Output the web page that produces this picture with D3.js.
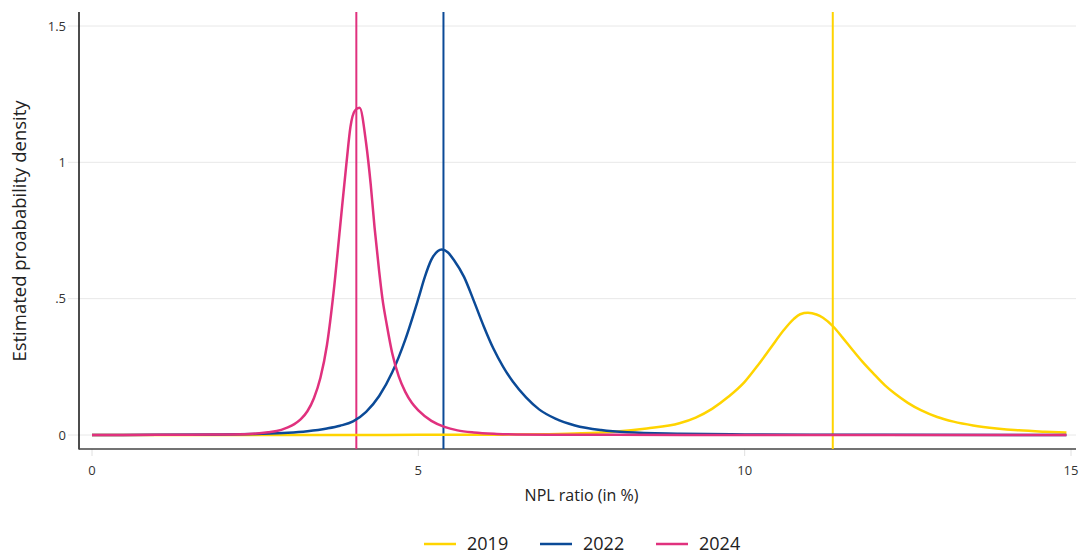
<!DOCTYPE html>
<html>
  <head>
    <meta charset="UTF-8" />
    <title>NPL ratio density</title>
    <script src="https://cdn.jsdelivr.net/npm/d3@7"></script>
    <style>
      body { margin: 0; background: #fff; }
      svg { display: block; font-family: 'Open Sans', sans-serif; }
    </style>
  </head>
  <body>
    <svg></svg>
    <script>
      // data: [NPL ratio, density]
      const years = ['2019', '2022', '2024'];
      const colors = ['#ffd400', '#0b4a97', '#e0317e'];
      const vlines = [11.35, 5.385, 4.05];

      const d2019 = [
        [0, 0], [4, 0.0003], [5, 0.0005], [6, 0.001], [7, 0.003], [7.5, 0.006],
        [8, 0.012], [8.5, 0.024], [9, 0.043], [9.25, 0.064], [9.5, 0.096],
        [9.75, 0.14], [10, 0.195], [10.2, 0.255], [10.4, 0.32], [10.6, 0.385],
        [10.75, 0.425], [10.85, 0.443], [10.97, 0.448], [11.1, 0.442], [11.2, 0.43],
        [11.36, 0.397], [11.5, 0.357], [11.66, 0.31], [11.8, 0.27], [11.97, 0.226],
        [12.15, 0.182], [12.3, 0.152], [12.5, 0.118], [12.7, 0.091], [12.95, 0.066],
        [13.2, 0.049], [13.5, 0.035], [13.86, 0.024], [14.2, 0.017], [14.6, 0.012],
        [14.93, 0.009]
      ];
      const d2022 = [
        [0, 0], [1, 0.0005], [2, 0.002], [2.5, 0.004], [3, 0.008], [3.3, 0.014],
        [3.6, 0.024], [3.8, 0.034], [4, 0.05], [4.2, 0.085], [4.4, 0.143],
        [4.6, 0.23], [4.8, 0.35], [5, 0.5], [5.1, 0.58], [5.2, 0.643], [5.3, 0.675],
        [5.36, 0.68], [5.45, 0.67], [5.55, 0.64], [5.7, 0.58], [5.85, 0.492],
        [6, 0.4], [6.15, 0.317], [6.3, 0.25], [6.45, 0.195], [6.65, 0.138],
        [6.85, 0.094], [7.1, 0.06], [7.4, 0.035], [7.8, 0.018], [8.2, 0.01],
        [9, 0.005], [10, 0.002], [11, 0.001], [12, 0.0005], [14.93, 0.0002]
      ];
      const d2024 = [
        [0, 0], [1, 0.0005], [1.5, 0.001], [2, 0.002], [2.4, 0.004], [2.7, 0.01],
        [2.9, 0.019], [3, 0.028], [3.1, 0.04], [3.2, 0.058], [3.3, 0.087],
        [3.4, 0.135], [3.5, 0.21], [3.6, 0.33], [3.7, 0.52], [3.8, 0.76],
        [3.9, 1.0], [3.96, 1.13], [4.03, 1.19], [4.1, 1.2], [4.2, 1.07],
        [4.27, 0.92], [4.33, 0.76], [4.4, 0.6], [4.45, 0.5], [4.52, 0.4],
        [4.6, 0.3], [4.7, 0.215], [4.8, 0.158], [4.9, 0.118], [5, 0.09],
        [5.2, 0.052], [5.4, 0.03], [5.6, 0.017], [5.85, 0.009], [6.2, 0.004],
        [6.5, 0.002], [7, 0.001], [8, 0.0005], [14.93, 0.0002]
      ];
      const series = [d2019, d2022, d2024];

      const xTicks = [0, 5, 10, 15];
      const yTicks = [0, 0.5, 1, 1.5];
      const yLabels = ['0', '.5', '1', '1.5'];

      const width = 1080;
      const height = 554;

      const svg = d3.select('svg').attr('width', width).attr('height', height);

      const x = d3.scaleLinear().domain([0, 15]).range([92, 1071]);
      const y = d3.scaleLinear().domain([0, 1.5]).range([435, 26]);

      // grid lines
      svg.append('g')
        .selectAll('line')
        .data(yTicks)
        .join('line')
        .attr('x1', 68)
        .attr('x2', 1076)
        .attr('y1', (d) => y(d))
        .attr('y2', (d) => y(d))
        .attr('stroke', '#e8e8e8')
        .attr('stroke-width', 1);

      // y labels
      svg.append('g')
        .selectAll('text')
        .data(yTicks)
        .join('text')
        .attr('x', 66)
        .attr('y', (d) => y(d))
        .attr('dy', '0.35em')
        .attr('text-anchor', 'end')
        .attr('font-size', 13)
        .attr('fill', '#333')
        .text((d, i) => yLabels[i]);

      // x ticks and labels
      const xg = svg.append('g');
      xg.selectAll('line')
        .data(xTicks)
        .join('line')
        .attr('x1', (d) => x(d))
        .attr('x2', (d) => x(d))
        .attr('y1', 449)
        .attr('y2', 456)
        .attr('stroke', '#e0e0e0');
      xg.selectAll('text')
        .data(xTicks)
        .join('text')
        .attr('x', (d) => x(d))
        .attr('y', 475)
        .attr('text-anchor', 'middle')
        .attr('font-size', 13)
        .attr('fill', '#333')
        .text((d) => d);

      // axis lines
      svg.append('line')
        .attr('x1', 79).attr('x2', 79)
        .attr('y1', 12).attr('y2', 449.5)
        .attr('stroke', '#111').attr('stroke-width', 1.5);
      svg.append('line')
        .attr('x1', 79).attr('x2', 1076)
        .attr('y1', 449).attr('y2', 449)
        .attr('stroke', '#444').attr('stroke-width', 1.5);

      // axis titles
      svg.append('text')
        .attr('x', x(7.5))
        .attr('y', 501)
        .attr('text-anchor', 'middle')
        .attr('font-size', 16)
        .attr('fill', '#222')
        .text('NPL ratio (in %)');
      svg.append('text')
        .attr('transform', 'translate(26,231) rotate(-90)')
        .attr('text-anchor', 'middle')
        .attr('font-size', 18.5)
        .attr('fill', '#222')
        .text('Estimated proabability density');

      // vertical marker lines
      svg.append('g')
        .selectAll('line')
        .data(vlines)
        .join('line')
        .attr('x1', (d) => x(d))
        .attr('x2', (d) => x(d))
        .attr('y1', 12)
        .attr('y2', 449)
        .attr('stroke', (d, i) => colors[i])
        .attr('stroke-width', 2);

      // density curves
      const line = d3.line()
        .x((d) => x(d[0]))
        .y((d) => y(d[1]))
        .curve(d3.curveMonotoneX);

      svg.append('g')
        .selectAll('path')
        .data(series)
        .join('path')
        .attr('d', line)
        .attr('fill', 'none')
        .attr('stroke', (d, i) => colors[i])
        .attr('stroke-width', 2.5)
        .attr('stroke-linejoin', 'round');

      // legend
      const legend = svg.append('g')
        .selectAll('g')
        .data(years)
        .join('g')
        .attr('transform', (d, i) => `translate(${424 + i * 116},544)`);
      legend.append('line')
        .attr('x1', 0).attr('x2', 32)
        .attr('stroke', (d, i) => colors[i])
        .attr('stroke-width', 2.5);
      legend.append('text')
        .attr('x', 43)
        .attr('dy', '0.35em')
        .attr('font-size', 18)
        .attr('fill', '#222')
        .text((d) => d);
    </script>
  </body>
</html>
